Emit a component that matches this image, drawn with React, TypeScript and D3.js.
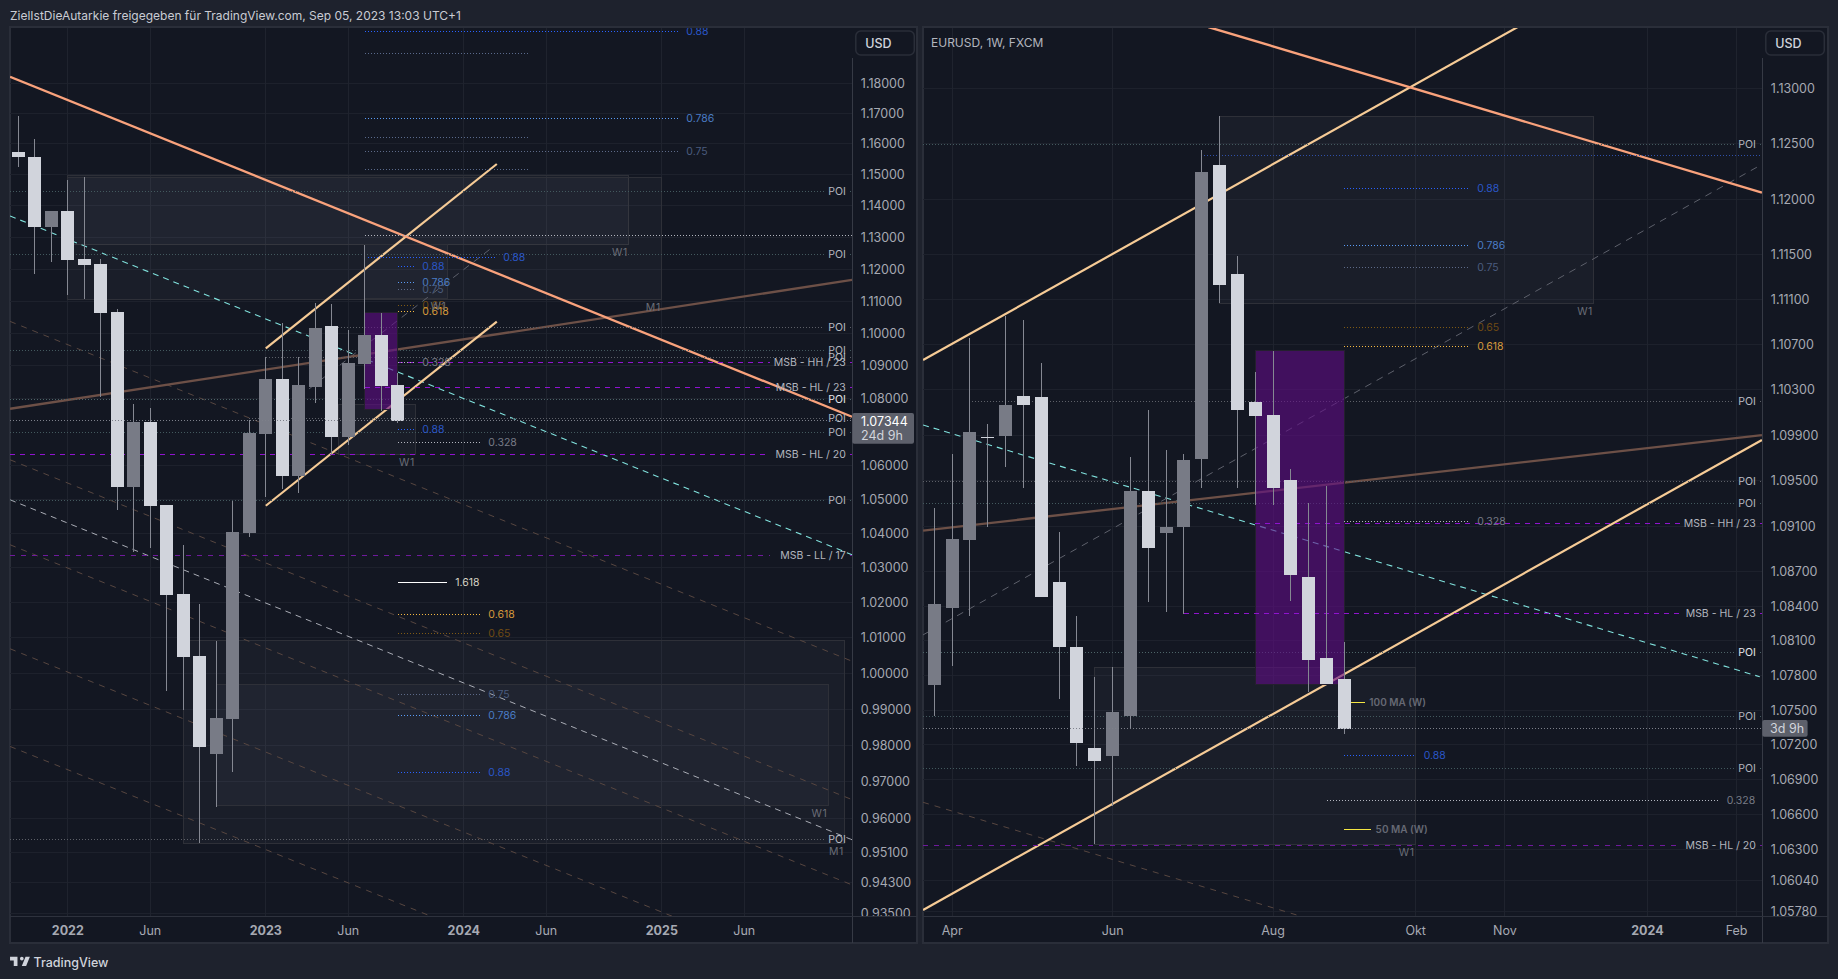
import { format, line, scaleLinear, scaleLog } from 'd3'

type Ohlc = [number, number, number, number]
type Anchor = [number, number]
type Level = [number, number]
type LabeledLevel = [number, number, string]
type Fib = [string, number, number, number]
type Box = [number, number, number, number, string]

const font = 'Inter, "Noto Sans", sans-serif'

// monthly bars from Oct 2021, price scale is logarithmic
const leftOhlc: Ohlc[] = [
  [1.1574, 1.1692, 1.1526, 1.1558],
  [1.1558, 1.1616, 1.1185, 1.1334],
  [1.1334, 1.1384, 1.1221, 1.1384],
  [1.1384, 1.1484, 1.1119, 1.1229],
  [1.1232, 1.1494, 1.1107, 1.1213],
  [1.1217, 1.1232, 1.0806, 1.1064],
  [1.1067, 1.1076, 1.0469, 1.0537],
  [1.0537, 1.0785, 1.0347, 1.0731],
  [1.0731, 1.0773, 1.0358, 1.0481],
  [1.0484, 1.0484, 0.9951, 1.0223],
  [1.0226, 1.0367, 0.9899, 1.0047],
  [1.005, 1.0197, 0.9534, 0.9796],
  [0.9777, 1.0092, 0.9631, 0.9876],
  [0.9874, 1.0496, 0.9728, 1.0405],
  [1.0402, 1.0737, 1.0391, 1.0698],
  [1.0695, 1.0928, 1.0507, 1.0861],
  [1.0861, 1.1033, 1.0531, 1.057],
  [1.057, 1.0928, 1.0519, 1.0843],
  [1.0836, 1.1094, 1.0788, 1.1017],
  [1.1023, 1.1091, 1.0632, 1.0686],
  [1.0686, 1.1011, 1.0662, 1.091],
  [1.0907, 1.1276, 1.083, 1.0995],
  [1.0995, 1.1064, 1.0764, 1.084],
  [1.0843, 1.0879, 1.0728, 1.0732],
]

// weekly bars from end of March 2023
const rightOhlc: Ohlc[] = [
  [1.07717, 1.09258, 1.07449, 1.0842],
  [1.08385, 1.09733, 1.07881, 1.08986],
  [1.08978, 1.10759, 1.08316, 1.09927],
  [1.09885, 1.09998, 1.09093, 1.09875],
  [1.09891, 1.10955, 1.09618, 1.10165],
  [1.10245, 1.10919, 1.09434, 1.10165],
  [1.10236, 1.10536, 1.08481, 1.08481],
  [1.08612, 1.09048, 1.07596, 1.08046],
  [1.08046, 1.08316, 1.07018, 1.07215],
  [1.07172, 1.07785, 1.06351, 1.07061],
  [1.07104, 1.07872, 1.06676, 1.07483],
  [1.07449, 1.09706, 1.07336, 1.09407],
  [1.09407, 1.10121, 1.08438, 1.08908],
  [1.09038, 1.09768, 1.08351, 1.0909],
  [1.0909, 1.09733, 1.08333, 1.0968],
  [1.09689, 1.12444, 1.09434, 1.12246],
  [1.12309, 1.12752, 1.1107, 1.11231],
  [1.11329, 1.1149, 1.09434, 1.10121],
  [1.10191, 1.10456, 1.09284, 1.10068],
  [1.10077, 1.10643, 1.09284, 1.09434],
  [1.09504, 1.09601, 1.08446, 1.08672],
  [1.08655, 1.09302, 1.07656, 1.07933],
  [1.07951, 1.09451, 1.07726, 1.07726],
  [1.07769, 1.0809, 1.07293, 1.07336],
]

const leftPriceTicks = [
  1.18, 1.17, 1.16, 1.15, 1.14, 1.13, 1.12, 1.11, 1.1, 1.09, 1.08, 1.06, 1.05, 1.04, 1.03, 1.02,
  1.01, 1, 0.99, 0.98, 0.97, 0.96, 0.951, 0.943, 0.935,
]
const rightPriceTicks = [
  1.13, 1.125, 1.12, 1.115, 1.111, 1.107, 1.103, 1.099, 1.095, 1.091, 1.087, 1.084, 1.081, 1.078,
  1.075, 1.072, 1.069, 1.066, 1.063, 1.0604, 1.0578,
]

const leftTimeTicks: [number, string][] = [
  [3, '2022'], [8, 'Jun'], [15, '2023'], [20, 'Jun'], [27, '2024'], [32, 'Jun'], [39, '2025'], [44, 'Jun'],
]
const rightTimeTicks: [number, string][] = [
  [1, 'Apr'], [10, 'Jun'], [19, 'Aug'], [27, 'Okt'], [32, 'Nov'], [40, '2024'], [45, 'Feb'],
]

// trend lines as [bar, price]
const leftResistance: Anchor[] = [[-0.5, 1.18208], [50.53, 1.0746]]
const leftBrown: Anchor[] = [[-0.5, 1.077], [50.53, 1.1166]]
const leftChannels: Anchor[][] = [
  [[15, 1.0954], [29, 1.1535]],
  [[15, 1.0481], [29, 1.1036]],
]
const leftCyan: Anchor[] = [[-0.5, 1.1368], [50.53, 1.0338]]
const leftWhiteDash: Anchor[] = [[-0.5, 1.04985], [50.53, 0.9544]]
const leftBrownDashes: Anchor[][] = [
  [[-0.5, 1.1037], [50.53, 1.0034]],
  [[-0.5, 1.0617], [50.53, 0.9652]],
  [[-0.5, 1.0367], [50.53, 0.9424]],
  [[-0.5, 1.0069], [50.53, 0.9153]],
  [[-0.5, 0.9797], [50.53, 0.8907]],
]
const leftGreyDash: Anchor[] = [[17, 1.0806], [28.77, 1.127]]

const rightResistance: Anchor[] = [[15.37, 1.13559], [46.42, 1.1206]]
const rightBrown: Anchor[] = [[-0.63, 1.0906], [46.42, 1.099]]
const rightChannels: Anchor[][] = [
  [[-0.63, 1.10563], [32.72, 1.13559]],
  [[-0.63, 1.05788], [46.42, 1.09856]],
]
const rightCyan: Anchor[] = [[-0.63, 1.09989], [46.3, 1.07788]]
const rightGreyDash: Anchor[] = [[-0.63, 1.08151], [46.3, 1.12303]]
const rightBrownDashes: Anchor[][] = [[[-0.63, 1.06707], [20.33, 1.05746]]]

// horizontal levels as [price, first bar]
const leftPoiTeal: Level[] = [[1.1447, -0.5], [1.1247, -0.5], [1.0948, -0.5], [1.0697, -0.5], [1.0497, -0.5]]
const leftPoiGrey: Level[] = [[1.1019, 19], [1.0927, 15], [1.0741, 14], [0.9546, -0.5]]
const leftPoiStrong: Level[] = [[1.0799, -0.5]]
const leftWhiteLevels: Level[] = [[1.1307, 21]]
const leftMsb: LabeledLevel[] = [
  [1.0912, 23, 'MSB - HH / 23'],
  [1.0833, 21, 'MSB - HL / 23'],
  [1.0634, -0.5, 'MSB - HL / 20'],
]
const leftMsbOld: LabeledLevel[] = [[1.0337, -0.5, 'MSB - LL / 17']]

const rightPoiTeal: Level[] = [[1.12495, -0.63], [1.09299, -0.63], [1.07447, -0.63], [1.06996, -0.63]]
const rightPoiGrey: Level[] = [[1.10198, 2.1], [1.09494, -0.63]]
const rightPoiStrong: Level[] = [[1.08, -0.63]]
const rightBlueLevels: [number, number, number][] = [[1.12396, 15.1, 46.3]]
const rightMsb: LabeledLevel[] = [
  [1.0912, 18, 'MSB - HH / 23'],
  [1.0834, 14, 'MSB - HL / 23'],
]
const rightMsbOld: LabeledLevel[] = [[1.0634, -0.63, 'MSB - HL / 20']]

// fib levels as [ratio, price, first bar, last bar], empty ratio = no text
const leftFibs: Fib[] = [
  ['0.88', 1.1972, 21, 40],
  ['', 1.1899, 21, 30.9],
  ['0.786', 1.1684, 21, 40],
  ['', 1.1622, 21, 30.9],
  ['0.75', 1.1576, 21, 40],
  ['', 1.1518, 21, 30.9],
  ['0.88', 1.1238, 21.2, 28.9],
  ['0.88', 1.1209, 23, 24],
  ['0.786', 1.1159, 23, 24],
  ['0.75', 1.1137, 23, 24],
  ['0.65', 1.1085, 23, 24],
  ['0.618', 1.1067, 23, 24],
  ['0.328', 1.0911, 23, 24],
  ['0.88', 1.0709, 23, 24],
  ['0.328', 1.0669, 23, 28],
  ['0.618', 1.0165, 23, 28],
  ['0.65', 1.0111, 23, 28],
  ['0.75', 0.9942, 23, 28],
  ['0.786', 0.9881, 23, 28],
  ['0.88', 0.9727, 23, 28],
]
const leftExtension: Fib[] = [['1.618', 1.0257, 23, 26]]
const rightFibs: Fib[] = [
  ['0.88', 1.12099, 23, 30],
  ['0.786', 1.11586, 23, 30],
  ['0.75', 1.11389, 23, 30],
  ['0.65', 1.10854, 23, 30],
  ['0.618', 1.10685, 23, 30],
  ['0.328', 1.09137, 23, 30],
  ['0.88', 1.07109, 23, 27],
  ['0.328', 1.06724, 22, 44],
]
const rightAverages: Fib[] = [
  ['100 MA (W)', 1.07567, 23, 24.15],
  ['50 MA (W)', 1.06477, 23, 24.5],
]

// zones as [first bar, last bar, top price, bottom price, tag]
const leftBoxes: Box[] = [
  [3, 37, 1.1497, 1.1278, 'W1'],
  [3, 39, 1.1493, 1.1106, 'M1'],
  [21, 26, 1.1276, 1.1107, 'W1'],
  [19.4, 24.1, 1.0784, 1.0634, 'W1'],
  [10, 50.1, 1.0091, 0.9533, 'M1'],
  [12, 49.1, 0.997, 0.9635, 'W1'],
]
const leftPurple: [number, number, number, number] = [21, 23, 1.1064, 1.0767]
const rightBoxes: Box[] = [
  [16, 37, 1.12749, 1.11068, 'W1'],
  [9, 27, 1.0787, 1.0635, 'W1'],
]
const rightPurple: [number, number, number, number] = [18, 23, 1.10644, 1.07717]

const fibLine: Record<string, string> = {
  '0.88': '#2962ff', '0.786': '#5b9cf6', '0.75': '#5d6a88', '0.65': '#7f5a14',
  '0.618': '#f5b942', '0.328': '#b2b5be', '1.618': '#ffffff',
}
const fibText: Record<string, string> = {
  '0.88': '#2a56c6', '0.786': '#4a7cc4', '0.75': '#4a5c7e', '0.65': '#6e4a14',
  '0.618': '#d69a3c', '0.328': '#787b86', '1.618': '#d6d3c4',
}

const plotTop = 28
const plotBottom = 916
const panelBottom = 943

type ChartProps = {
  id: string
  panelLeft: number
  panelRight: number
  axisX: number
  ohlc: Ohlc[]
  barRange: [number, number]
  barDomain: [number, number]
  priceDomain: [number, number]
  priceRange: [number, number]
  priceTicks: number[]
  timeTicks: [number, string][]
  resistance: Anchor[]
  brown: Anchor[]
  channels: Anchor[][]
  cyan: Anchor[]
  greyDash: Anchor[]
  whiteDash?: Anchor[]
  brownDashes: Anchor[][]
  poiTeal: Level[]
  poiGrey: Level[]
  poiStrong: Level[]
  msb: LabeledLevel[]
  msbOld?: LabeledLevel[]
  whiteLevels?: Level[]
  blueLevels?: [number, number, number][]
  fibs: Fib[]
  extension?: Fib[]
  averages?: Fib[]
  boxes: Box[]
  purple: [number, number, number, number]
  children?: React.ReactNode
}

function Chart(props: ChartProps) {
  const { id, panelLeft, panelRight, axisX, ohlc, priceTicks, timeTicks } = props
  const x = scaleLinear().domain(props.barDomain).range(props.barRange)
  const y = scaleLog().domain(props.priceDomain).range(props.priceRange)
  const priceText = format('.5f')
  const path = line<Anchor>()
    .x((d) => x(d[0]))
    .y((d) => y(d[1]))
  const labelRight = axisX - 6.5
  // horizontal rules sit on a pixel row, like the original canvas
  const row = (price: number) => Math.floor(y(price)) + 0.5

  const brokenLevel = (price: number, from: number, text: string, color: string, dash: string, bright: string) => {
    const textWidth = text.length * 5.4
    const py = row(price)
    return (
      <g key={`${text}-${price}`}>
        <g shapeRendering="crispEdges">
          <line x1={x(from)} x2={labelRight - textWidth - 6} y1={py} y2={py} stroke={color} strokeDasharray={dash} />
          <line x1={labelRight + 4} x2={axisX} y1={py} y2={py} stroke={color} strokeDasharray={dash} />
        </g>
        <text x={labelRight} y={py - 0.5} textAnchor="end" dominantBaseline="central" fontSize={10.5} fill={bright}>
          {text}
        </text>
      </g>
    )
  }

  const fibLevel = (fib: Fib, i: number) => {
    const [ratio, price, from, to] = fib
    const py = row(price)
    const solid = ratio === '1.618'
    return (
      <g key={`${ratio}-${i}`}>
        <line
          x1={x(from)}
          x2={x(to)}
          y1={py}
          y2={py}
          stroke={fibLine[ratio] ?? '#5a6a8c'}
          strokeWidth={solid ? 1.5 : 1}
          strokeDasharray={solid ? undefined : '1 2'}
          shapeRendering="crispEdges"
        />
        {ratio && (
          <text x={x(to) + 8} y={py} dominantBaseline="central" fontSize={10.5} fill={fibText[ratio]}>
            {ratio}
          </text>
        )}
      </g>
    )
  }

  return (
    <g fontFamily={font}>
      <defs>
        <clipPath id={`${id}-plot`}>
          <rect x={panelLeft} y={plotTop} width={axisX - panelLeft} height={plotBottom - plotTop} />
        </clipPath>
      </defs>
      <rect
        x={panelLeft}
        y={plotTop - 1}
        width={panelRight - panelLeft}
        height={panelBottom - plotTop + 1}
        fill="#131722"
        stroke="#2a2e39"
        strokeWidth={2}
      />

      <g clipPath={`url(#${id}-plot)`}>
        <g shapeRendering="crispEdges">
          {priceTicks.map((tick) => (
            <line key={tick} x1={panelLeft} x2={axisX} y1={row(tick)} y2={row(tick)} stroke="#1d212c" />
          ))}
          {timeTicks.map(([bar, label]) => (
            <line key={`${bar}-${label}`} x1={x(bar)} x2={x(bar)} y1={plotTop} y2={plotBottom} stroke="#1f232e" />
          ))}
        </g>

        {props.boxes.map(([from, to, top, bottom], i) => (
          <rect
            key={i}
            x={x(from)}
            y={y(top)}
            width={x(to) - x(from)}
            height={y(bottom) - y(top)}
            fill="rgba(200,205,220,0.04)"
            stroke="#2e3038"
            shapeRendering="crispEdges"
          />
        ))}

        {props.brownDashes.map((d, i) => (
          <path key={i} d={path(d) ?? ''} stroke="#574640" strokeWidth={1} strokeDasharray="6 6" fill="none" />
        ))}
        {props.whiteDash && (
          <path d={path(props.whiteDash) ?? ''} stroke="#a9acb5" strokeWidth={1} strokeDasharray="6 5" fill="none" />
        )}
        <path d={path(props.greyDash) ?? ''} stroke="#5d606b" strokeWidth={1} strokeDasharray="7 6" fill="none" />
        <path d={path(props.cyan) ?? ''} stroke="#80e2dd" strokeWidth={1.1} strokeDasharray="6 5" fill="none" />
        <path d={path(props.brown) ?? ''} stroke="#6d5047" strokeWidth={2.3} fill="none" />
        {props.channels.map((d, i) => (
          <path key={i} d={path(d) ?? ''} stroke="#f6cb96" strokeWidth={2.2} fill="none" />
        ))}
        <path d={path(props.resistance) ?? ''} stroke="#f9a27c" strokeWidth={2.3} fill="none" />

        {props.poiTeal.map(([price, from]) => brokenLevel(price, from, 'POI', '#43595e', '1 2', '#b2b5be'))}
        {props.poiGrey.map(([price, from]) => brokenLevel(price, from, 'POI', '#5d6068', '1 2', '#b8bbc3'))}
        {props.poiStrong.map(([price, from]) => brokenLevel(price, from, 'POI', '#4d6468', '1 2', '#e4e6eb'))}
        <g shapeRendering="crispEdges">
          {props.whiteLevels?.map(([price, from]) => (
            <line key={price} x1={x(from)} x2={axisX} y1={row(price)} y2={row(price)} stroke="#b2b5be" strokeDasharray="1 2" />
          ))}
          {props.blueLevels?.map(([price, from, to]) => (
            <line key={price} x1={x(from)} x2={x(to)} y1={row(price)} y2={row(price)} stroke="#2f4fa8" strokeDasharray="1 2" />
          ))}
        </g>

        <rect
          x={x(props.purple[0])}
          y={y(props.purple[2])}
          width={x(props.purple[1]) - x(props.purple[0])}
          height={y(props.purple[3]) - y(props.purple[2])}
          fill="rgba(97,11,135,0.6)"
          stroke="#24202e"
          shapeRendering="crispEdges"
        />

        {props.msb.map(([price, from, text]) => brokenLevel(price, from, text, '#8f12cf', '5 5', '#b2b5be'))}
        {props.msbOld?.map(([price, from, text]) => brokenLevel(price, from, text, '#6f1a9c', '5 6', '#b2b5be'))}
        {props.fibs.map(fibLevel)}
        {props.extension?.map(fibLevel)}

        {props.averages?.map(([text, price, from, to]) => (
          <g key={text}>
            <line x1={x(from)} x2={x(to)} y1={row(price)} y2={row(price)} stroke="#f5e642" shapeRendering="crispEdges" />
            <text
              x={x(to) + 4.5}
              y={y(price) - 0.5}
              dominantBaseline="central"
              fontSize={10}
              fontWeight={600}
              fill="#666974"
            >
              {text}
            </text>
          </g>
        ))}

        <g shapeRendering="crispEdges">
          {ohlc.map(([open, high, low, close], i) => {
            const top = y(Math.max(open, close))
            const bottom = y(Math.min(open, close))
            return (
              <g key={i}>
                <line x1={x(i)} x2={x(i)} y1={y(high)} y2={y(low)} stroke="#858892" />
                <rect
                  x={x(i) - 6.5}
                  y={top}
                  width={13}
                  height={Math.max(bottom - top, 1)}
                  fill={close < open ? '#d1d4dc' : '#787b86'}
                />
              </g>
            )
          })}
          <line
            x1={panelLeft}
            x2={axisX}
            y1={row(1.07344)}
            y2={row(1.07344)}
            stroke="#7d808a"
            strokeDasharray="1 2"
          />
        </g>

        {props.boxes.map(([, to, , bottom, tag], i) => (
          <text
            key={i}
            x={x(to) - 1}
            y={y(bottom) + 8}
            textAnchor="end"
            dominantBaseline="central"
            fontSize={10.5}
            letterSpacing={0.6}
            fill="#6a6d77"
          >
            {tag}
          </text>
        ))}
      </g>

      <line x1={axisX} x2={axisX} y1={58} y2={panelBottom} stroke="#363a45" shapeRendering="crispEdges" />
      <line x1={panelLeft} x2={panelRight} y1={plotBottom} y2={plotBottom} stroke="#2e323d" shapeRendering="crispEdges" />

      <clipPath id={`${id}-axis`}>
        <rect x={axisX} y={58} width={panelRight - axisX} height={plotBottom - 58} />
      </clipPath>
      <g clipPath={`url(#${id}-axis)`}>
        {priceTicks.map((tick) => (
          <text
            key={tick}
            x={axisX + 8.5}
            y={y(tick)}
            dominantBaseline="central"
            fontSize={12.5}
            fill="#a6a9b2"
          >
            {priceText(tick)}
          </text>
        ))}
      </g>

      {timeTicks.map(([bar, label]) => (
        <text
          key={`${bar}-${label}-text`}
          x={x(bar)}
          y={930.5}
          textAnchor="middle"
          dominantBaseline="central"
          fontSize={12.5}
          fontWeight={/\d/.test(label) ? 700 : 400}
          fill="#a6a9b2"
        >
          {label}
        </text>
      ))}

      <rect x={axisX + 3.5} y={31} width={58.5} height={24} rx={5} fill="#131722" stroke="#2a2e39" strokeWidth={1.5} />
      <text x={axisX + 13} y={43.5} dominantBaseline="central" fontSize={12.5} fontWeight={500} fill="#d1d4dc">
        USD
      </text>
      {props.children}
    </g>
  )
}

export default function App() {
  return (
    <svg
      width={1838}
      height={979}
      viewBox="0 0 1838 979"
      style={{ position: 'fixed', left: 0, top: 0, display: 'block' }}
    >
      <rect width={1838} height={979} fill="#1e222d" />
      <text x={10} y={15.5} fontFamily={font} fontSize={12} fill="#c9ccd4" dominantBaseline="central">
        ZielIstDieAutarkie freigegeben für TradingView.com, Sep 05, 2023 13:03 UTC+1
      </text>

      <Chart
        id="left"
        panelLeft={10}
        panelRight={917}
        axisX={852.3}
        ohlc={leftOhlc}
        barDomain={[0, 44]}
        barRange={[18.3, 744.3]}
        priceDomain={[0.935, 1.18]}
        priceRange={[913, 83]}
        priceTicks={leftPriceTicks}
        timeTicks={leftTimeTicks}
        resistance={leftResistance}
        brown={leftBrown}
        channels={leftChannels}
        cyan={leftCyan}
        greyDash={leftGreyDash}
        whiteDash={leftWhiteDash}
        brownDashes={leftBrownDashes}
        poiTeal={leftPoiTeal}
        poiGrey={leftPoiGrey}
        poiStrong={leftPoiStrong}
        msb={leftMsb}
        msbOld={leftMsbOld}
        whiteLevels={leftWhiteLevels}
        fibs={leftFibs}
        extension={leftExtension}
        boxes={leftBoxes}
        purple={leftPurple}
      >
        <rect x={852.3} y={413} width={61.7} height={30.7} rx={2} fill="#5d606b" />
        <text x={861} y={421.5} dominantBaseline="central" fontSize={12.5} fill="#ffffff">1.07344</text>
        <text x={861} y={435.5} dominantBaseline="central" fontSize={12.5} fill="#d1d4dc">24d 9h</text>
      </Chart>

      <Chart
        id="right"
        panelLeft={923}
        panelRight={1828}
        axisX={1762.3}
        ohlc={rightOhlc}
        barDomain={[0, 45]}
        barRange={[934.3, 1736.6]}
        priceDomain={[1.0578, 1.13]}
        priceRange={[911, 88.5]}
        priceTicks={rightPriceTicks}
        timeTicks={rightTimeTicks}
        resistance={rightResistance}
        brown={rightBrown}
        channels={rightChannels}
        cyan={rightCyan}
        greyDash={rightGreyDash}
        brownDashes={rightBrownDashes}
        poiTeal={rightPoiTeal}
        poiGrey={rightPoiGrey}
        poiStrong={rightPoiStrong}
        msb={rightMsb}
        msbOld={rightMsbOld}
        blueLevels={rightBlueLevels}
        fibs={rightFibs}
        averages={rightAverages}
        boxes={rightBoxes}
        purple={rightPurple}
      >
        <rect x={1762.3} y={720} width={45.3} height={16.7} rx={2} fill="#5d606b" />
        <text x={1770} y={728.5} dominantBaseline="central" fontSize={12.5} fill="#d1d4dc">3d 9h</text>
      </Chart>

      <text x={931} y={42.5} fontFamily={font} fontSize={12} fill="#b2b5be" dominantBaseline="central">
        EURUSD, 1W, FXCM
      </text>

      <path
        d="M14 6H2v6h6v9h6V6Zm14 15h-7l6-15h7l-6 15Zm-7-9a3 3 0 1 0 0-6 3 3 0 0 0 0 6Z"
        transform="translate(8.8 953) scale(0.62)"
        fill="#d1d4dc"
      />
      <text x={33.5} y={962.5} fontFamily={font} fontSize={12.5} fontWeight={500} fill="#d1d4dc" dominantBaseline="central">
        TradingView
      </text>
    </svg>
  )
}
